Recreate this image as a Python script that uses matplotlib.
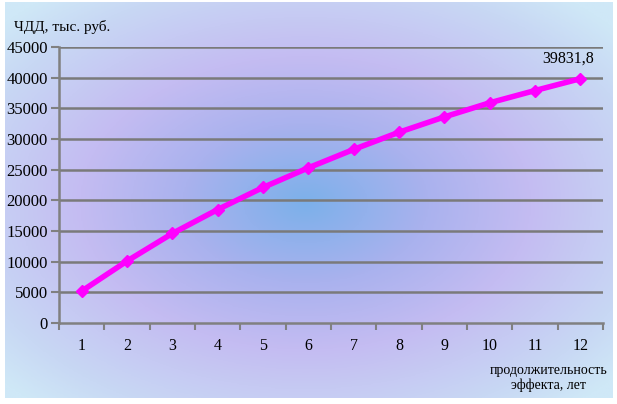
import numpy as np
import matplotlib
matplotlib.use("Agg")
import matplotlib.pyplot as plt
from matplotlib.colors import LinearSegmentedColormap

years = [1, 2, 3, 4, 5, 6, 7, 8, 9, 10, 11, 12]
npv = [5200, 10100, 14600, 18500, 22100, 25300, 28300, 31100, 33600, 35900, 37900, 39831.8]
yticks = [0, 5000, 10000, 15000, 20000, 25000, 30000, 35000, 40000, 45000]
last_label = "39831,8"
y_title = "ЧДД, тыс. руб."
x_title = "продолжительность\nэффекта, лет"

W, H = 617, 404
fig = plt.figure(figsize=(W / 100, H / 100), dpi=100)
fig.patch.set_facecolor("white")

# background radial gradient
bg = fig.add_axes([0.008, 0.015, 0.984, 0.98])
bg.set_axis_off()
xx, yy = np.meshgrid(np.linspace(0, W, 400), np.linspace(0, H, 300))
cx, cy = 305, 205
d = np.sqrt(((xx - cx) / (W * 0.5)) ** 2 + ((yy - cy) / (H * 0.5)) ** 2)
cmap = LinearSegmentedColormap.from_list(
    "g",
    [(0.0, "#7cb0ea"), (0.3, "#aab2ee"), (0.55, "#c4bcf2"), (0.85, "#c8d8f4"), (1.0, "#cfe8f7")],
)
bg.imshow(np.clip(d / 1.35, 0, 1), cmap=cmap, aspect="auto", extent=[0, W, H, 0], vmin=0, vmax=1)
bg.set_xlim(0, W)
bg.set_ylim(H, 0)

ax = fig.add_axes([59 / W, 81 / H, (603 - 59) / W, (323 - 47) / H])
ax.patch.set_alpha(0)
font = "Liberation Serif"

ax.plot(years, npv, color="#ff00ff", lw=4, marker="D", ms=6, mfc="#ff00ff", mec="#ff00ff", zorder=3, solid_capstyle="round")
ax.set_xlim(0.5, 12.5)
ax.set_ylim(0, 45000)
ax.set_yticks(yticks)
ax.set_yticklabels([str(v) for v in yticks], fontfamily=font, fontsize=12)
ax.set_xticks(years)
ax.set_xticklabels([str(v) for v in years], fontfamily=font, fontsize=11.5)
ax.set_xticks(np.arange(0.5, 13, 1), minor=True)
ax.tick_params(axis="x", which="major", length=0, pad=11)
ax.tick_params(axis="x", which="minor", length=5, color="#808080", width=1.5, direction="out")
ax.tick_params(axis="y", length=6, color="#808080", width=1.5, direction="out", pad=2)
for v in yticks[1:]:
    ax.axhline(v, color="#7a7a7a", lw=1.8, zorder=1)
for s in ["top", "right"]:
    ax.spines[s].set_visible(False)
for s in ["left", "bottom"]:
    ax.spines[s].set_color("#808080")
    ax.spines[s].set_linewidth(1.8)

ax.annotate(last_label, (years[-1], npv[-1]), xytext=(-9, 9), textcoords="offset points",
            ha="center", va="bottom", fontfamily=font, fontsize=11.5)

fig.text(14 / W, 1 - 27 / H, y_title, fontfamily=font, fontsize=11, va="center", ha="left")
fig.text(607 / W, 1 - 378 / H, x_title, fontfamily=font, fontsize=10, va="center", ha="right",
         multialignment="center", linespacing=1.2)

fig.savefig("out.png", dpi=100)
